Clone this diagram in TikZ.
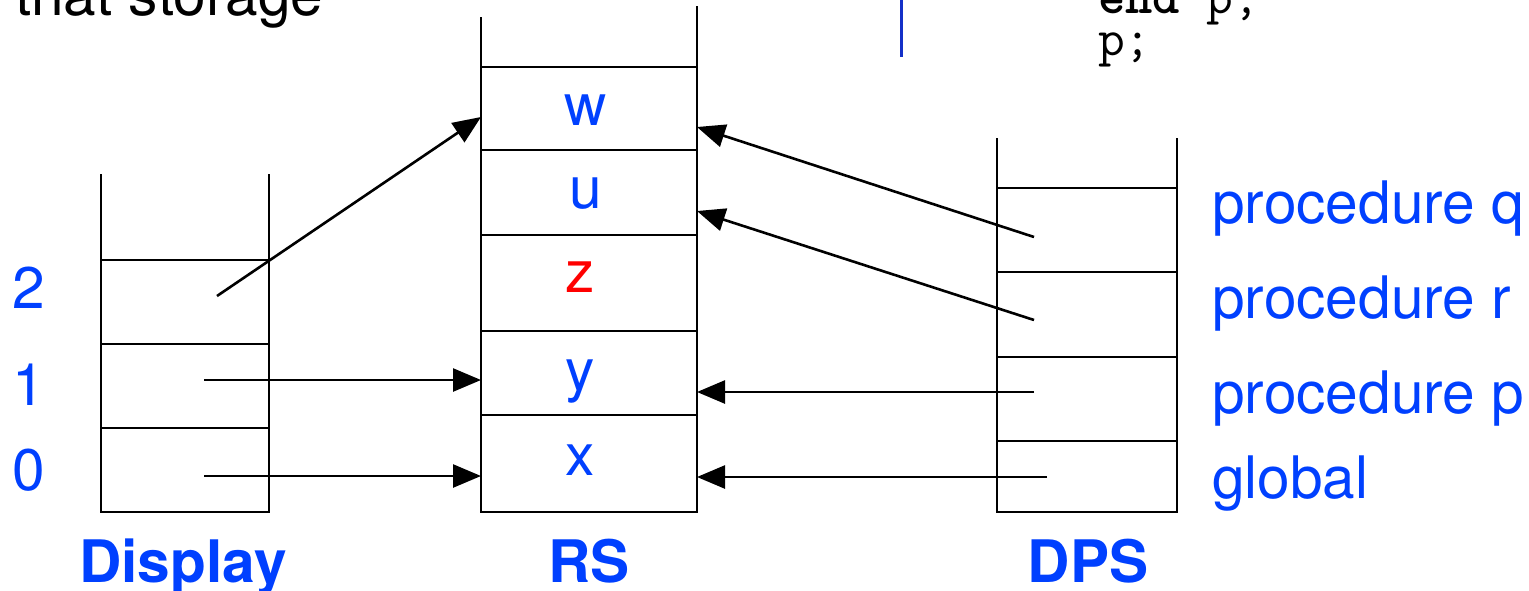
\documentclass[tikz,border=0pt]{standalone}
\usepackage{fontspec}
\setmainfont{TeX Gyre Heros}
\usetikzlibrary{arrows.meta}
\definecolor{lblblue}{RGB}{0,64,255}
\definecolor{lblred}{RGB}{255,0,0}
\definecolor{barblue}{RGB}{20,48,200}
\tikzset{
  stackline/.style={line width=2.6pt, line cap=rect},
  ptr/.style={line width=2.6pt, -{Triangle[length=28pt,width=23pt]}},
  lbl/.style={inner sep=0pt, text=lblblue, font=\fontsize{58.6}{60}\selectfont},
  title/.style={inner sep=0pt, text=lblblue, font=\fontsize{58.6}{60}\selectfont\bfseries, anchor=base},
  codetxt/.style={inner sep=0pt, anchor=base west, font=\fontsize{52}{54}\selectfont\ttfamily},
}
\begin{document}
\begin{tikzpicture}[x=1pt,y=-1pt]
\useasboundingbox (0,0) rectangle (1529,590);
\clip (0,0) rectangle (1529,590);
% top texts (cut off by the frame)
\node[inner sep=0pt, anchor=base west, font=\fontsize{58.6}{60}\selectfont] (storage) at (15,15) {that storage};
\draw[line width=3pt, barblue] (901,0) -- (901,57);
\node[codetxt] (code1) at (1098,13) {\textbf{end} p;};
\node[codetxt] (code2) at (1098,55) {p;};
% Display stack
\draw[stackline] (101,175) -- (101,512) -- (269,512) -- (269,175);
\foreach \yy in {260,344,428} \draw[stackline] (101,\yy) -- (269,\yy);
% RS stack
\draw[stackline] (481,18) -- (481,512) -- (697,512) -- (697,7);
\foreach \yy in {67,150,235,331,415} \draw[stackline] (481,\yy) -- (697,\yy);
% DPS stack
\draw[stackline] (997,139) -- (997,512) -- (1177,512) -- (1177,139);
\foreach \yy in {188,272,357,441} \draw[stackline] (997,\yy) -- (1177,\yy);
% labels
\node[lbl, anchor=base] (n2) at (29,308) {2};
\node[lbl, anchor=base] (n1) at (29,405) {1};
\node[lbl, anchor=base] (n0) at (29,490) {0};
\node[lbl, anchor=base] (vw) at (586,125) {w};
\node[lbl, anchor=base] (vu) at (586,208) {u};
\node[lbl, anchor=base, text=lblred] (vz) at (580,292) {z};
\node[lbl, anchor=base] (vy) at (580,390) {y};
\node[lbl, anchor=base] (vx) at (580,475) {x};
\node[lbl, anchor=base west] (pq) at (1212,223) {procedure q};
\node[lbl, anchor=base west] (pr) at (1212,318) {procedure r};
\node[lbl, anchor=base west] (pp) at (1212,413) {procedure p};
\node[lbl, anchor=base west] (gl) at (1212,498) {global};
\node[title] (tDisplay) at (183,582) {Display};
\node[title] (tRS) at (589,582) {RS};
\node[title] (tDPS) at (1088,582) {DPS};
% pointer coordinates
\coordinate (d2) at (217,296);
\coordinate (d1) at (204,380);
\coordinate (d0) at (204,476);
\coordinate (rsw) at (481,117);
\coordinate (rsy) at (481,380);
\coordinate (rsx) at (481,476);
\coordinate (sq) at (1034,237);
\coordinate (sr) at (1034,320);
\coordinate (sp) at (1034,392);
\coordinate (sg) at (1047,477);
\coordinate (rw) at (697,127);
\coordinate (ru) at (697,211);
\coordinate (ry) at (697,392);
\coordinate (rx) at (697,477);
\draw[ptr] (d2) -- (rsw);
\draw[ptr] (d1) -- (rsy);
\draw[ptr] (d0) -- (rsx);
\draw[ptr] (sq) -- (rw);
\draw[ptr] (sr) -- (ru);
\draw[ptr] (sp) -- (ry);
\draw[ptr] (sg) -- (rx);
\end{tikzpicture}
\end{document}
